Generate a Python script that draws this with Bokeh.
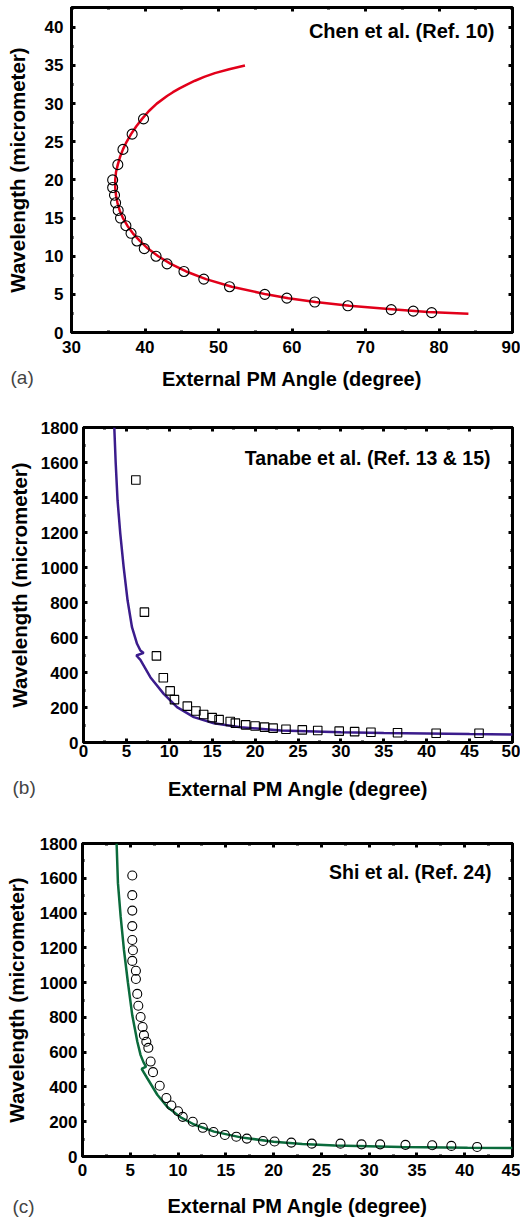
from bokeh.plotting import figure
from bokeh.models import Range1d, LinearAxis, SingleIntervalTicker, Label, Title
from bokeh.embed import file_html
from bokeh.resources import INLINE

FONT = "Liberation Sans"

# ---------------- data ----------------
# (a) Chen et al. (Ref. 10)
a_pts_x = [39.8, 38.25, 37.0, 36.3, 35.6, 35.6, 35.85, 36.0, 36.35, 36.67, 37.4, 38.1, 38.9,
           39.9, 41.5, 43.0, 45.3, 48.0, 51.5, 56.3, 59.3, 63.1, 67.6, 73.5, 76.5, 79.0]
a_pts_y = [28, 26, 24, 22, 20, 19, 18, 17, 16, 15, 14, 13, 12,
           11, 10, 9, 8, 7, 6, 5, 4.5, 4, 3.5, 3, 2.8, 2.6]
a_curve_x = [53.6, 51.45, 49.5, 48.05, 46.8, 45.7, 44.7, 43.8, 43.0, 41.6, 40.5, 39.6, 38.8,
             38.1, 37.5, 37.0, 36.6, 36.3, 36.05, 35.95, 35.95, 36.05, 36.25, 36.55, 37.0,
             37.6, 38.35, 39.3, 40.4, 41.8, 43.5, 45.6, 48.3, 51.8, 56.5, 59.5, 63.2, 67.8,
             74.0, 78.5, 84.0]
a_curve_y = [35, 34.5, 34, 33.5, 33, 32.5, 32, 31.5, 31, 30, 29, 28, 27,
             26, 25, 24, 23, 22, 21, 20, 19, 18, 17, 16, 15,
             14, 13, 12, 11, 10, 9, 8, 7, 6, 5, 4.5, 4, 3.5,
             3, 2.7, 2.45]

# (b) Tanabe et al. (Ref. 13 & 15)
b_pts_x = [6.1, 7.1, 8.5, 9.3, 10.1, 10.6, 12.1, 13.1, 14.0, 15.0, 15.8, 17.1, 17.7, 18.9,
           20.0, 21.1, 22.1, 23.6, 25.5, 27.3, 29.8, 31.6, 33.5, 36.6, 41.1, 46.1]
b_pts_y = [1500, 745, 495, 370, 295, 245, 208, 180, 160, 142, 131, 120, 111, 101,
           94, 88, 82, 76, 72, 69, 65, 62, 59, 56, 53, 53]
b_curve_x = [3.59, 3.75, 3.97, 4.29, 4.68, 5.14, 5.65, 6.24, 6.63, 7.01, 6.16, 6.63, 7.79,
             9.35, 10.9, 12.86, 15.2, 18.3, 23.0, 30.0, 35.0, 40.0, 45.0, 50.0]
b_curve_y = [1800, 1600, 1383, 1192, 1002, 811, 659, 564, 526, 512, 497, 472, 373,
             278, 202, 145, 110, 87, 69, 59, 54, 51, 48, 46]

# (c) Shi et al. (Ref. 24)
c_pts_x = [5.21, 5.21, 5.21, 5.21, 5.21, 5.28, 5.21, 5.59, 5.59, 5.73, 5.84, 6.08, 6.29, 6.43,
           6.68, 6.89, 7.13, 7.38, 8.08, 8.78, 9.3, 10.0, 10.49, 11.54, 12.59, 13.71, 14.9,
           16.1, 17.2, 18.9, 20.1, 21.85, 24.0, 27.0, 29.2, 31.15, 33.8, 36.6, 38.6, 41.3]
c_pts_y = [1616, 1503, 1414, 1325, 1245, 1186, 1125, 1068, 1021, 935, 867, 802, 745, 698,
           660, 625, 546, 485, 407, 336, 293, 260, 228, 200, 165, 141, 124,
           114, 103, 89, 86, 80, 74, 74, 70, 70, 67, 65, 61, 55]
c_curve_x = [3.57, 3.71, 3.99, 4.33, 4.75, 5.21, 5.74, 6.08, 6.4, 6.65, 6.19, 6.78, 7.83,
             8.88, 10.28, 11.68, 13.77, 16.57, 20.0, 23.0, 26.4, 33.4, 40.3, 45.0]
c_curve_y = [1800, 1572, 1382, 1192, 1002, 812, 660, 583, 540, 517, 504, 450, 355,
             285, 225, 184, 143, 110, 85, 72, 63, 55, 51, 49]

x_label = "External PM Angle (degree)"
y_label = "Wavelength (micrometer)"

W = 520


def style_axis(ax, ticker, labels=True, tick_standoff=6, label_standoff=10, label_size="20px"):
    ax.ticker = ticker
    ax.axis_line_color = None
    ax.major_tick_in = 4
    ax.major_tick_out = 0
    ax.minor_tick_in = 2
    ax.minor_tick_out = 0
    ax.major_tick_line_width = 3
    ax.minor_tick_line_width = 3
    ax.major_tick_line_color = "black"
    ax.minor_tick_line_color = "black"
    if labels:
        ax.major_label_text_font = FONT
        ax.major_label_text_font_style = "bold"
        ax.major_label_text_font_size = "17px"
        ax.major_label_text_color = "black"
        ax.major_label_standoff = tick_standoff
        ax.axis_label_text_font = FONT
        ax.axis_label_text_font_style = "bold"
        ax.axis_label_text_font_size = label_size
        ax.axis_label_text_color = "black"
        ax.axis_label_standoff = label_standoff
    else:
        ax.major_label_text_color = None
        ax.major_label_text_font_size = "1px"
        ax.major_label_standoff = 0


def make_panel(height, top, bottom, left, xr, yr, xint, yint, letter, letter_x, letter_so,
               title, title_dx, title_dy, title_size, xs, ys):
    p = figure(width=W, height=height, x_range=Range1d(*xr), y_range=Range1d(*yr),
               output_backend="svg", toolbar_location=None,
               min_border_left=left, min_border_right=8,
               min_border_top=top, min_border_bottom=bottom)
    p.grid.visible = False
    p.outline_line_color = "black"
    p.outline_line_width = 3
    p.background_fill_color = "white"
    p.border_fill_color = "white"
    style_axis(p.xaxis[0], SingleIntervalTicker(interval=xint, num_minor_ticks=2),
               True, xs[0], xs[1], "20px")
    style_axis(p.yaxis[0], SingleIntervalTicker(interval=yint, num_minor_ticks=2),
               True, ys[0], ys[1], "20.5px")
    p.xaxis[0].axis_label = x_label
    p.yaxis[0].axis_label = y_label
    top_ax = LinearAxis()
    style_axis(top_ax, SingleIntervalTicker(interval=xint, num_minor_ticks=2), False)
    right_ax = LinearAxis()
    style_axis(right_ax, SingleIntervalTicker(interval=yint, num_minor_ticks=2), False)
    p.add_layout(top_ax, "above")
    p.add_layout(right_ax, "right")
    fw = W - left - 8
    fh = height - top - bottom
    p.add_layout(Label(x=fw - title_dx, y=fh - title_dy, x_units="screen", y_units="screen",
                       text=title, text_align="right", text_baseline="middle",
                       text_font=FONT, text_font_style="bold", text_font_size=title_size,
                       text_color="black"))
    p.add_layout(Title(text=letter, align="left", offset=letter_x - left, vertical_align="top",
                       standoff=letter_so, text_font=FONT, text_font_style="normal",
                       text_font_size="19px", text_color="#444444"), "below")
    return p


pa = make_panel(400, 7, 68, 71, (30, 90), (0, 42.6), 10, 5, "(a)", 10, -52,
                "Chen et al. (Ref. 10)", 18, 23, "20px", xs=(8, 12), ys=(8, 13))
pa.line(a_curve_x, a_curve_y, line_color="#e2001a", line_width=2.5)
pa.scatter(a_pts_x, a_pts_y, marker="circle", size=10, fill_color=None,
           line_color="black", line_width=1.1)

pb = make_panel(410, 27, 68, 83, (0, 50), (0, 1800), 5, 200, "(b)", 12, -52,
                "Tanabe et al. (Ref. 13 & 15)", 22, 30, "19.5px", xs=(2, 18), ys=(5, 7))
pb.line(b_curve_x, b_curve_y, line_color="#3b1c8c", line_width=2.5)
pb.scatter(b_pts_x, b_pts_y, marker="square", size=8.5, fill_color=None,
           line_color="black", line_width=1.1)

pc = make_panel(409, 33, 61, 82, (0, 45), (0, 1800), 5, 200, "(c)", 12, -48,
                "Shi et al. (Ref. 24)", 21, 30, "19.5px", xs=(7, 16), ys=(5, 9))
pc.line(c_curve_x, c_curve_y, line_color="#0b6b3c", line_width=2.5)
pc.scatter(c_pts_x, c_pts_y, marker="circle", size=9, fill_color=None,
           line_color="black", line_width=1.1)

open("out.html", "w").write(file_html([pa, pb, pc], INLINE))
